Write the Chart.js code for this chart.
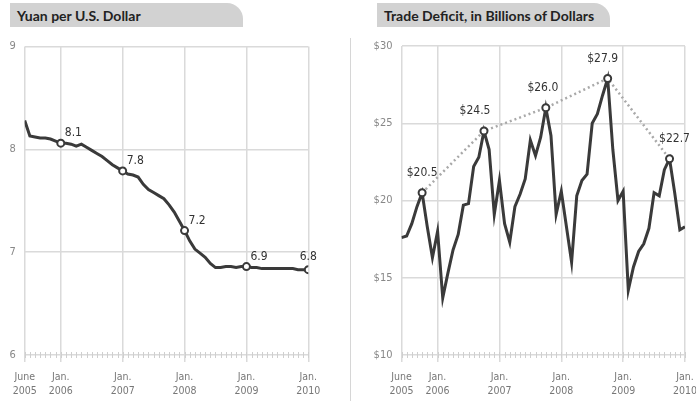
<!DOCTYPE html>
<html>
<head>
<meta charset="utf-8">
<script src="https://cdn.jsdelivr.net/npm/chart.js@4.4.1/dist/chart.umd.min.js"></script>
<style>
  body { margin: 0; background: #fff; width: 696px; height: 401px; overflow: hidden; position: relative; }
  .tab {
    position: absolute; top: 3px; height: 24px; width: 233px;
    background: #d2d2d2; border-top-right-radius: 16px;
    font: bold 14px Lato, sans-serif; color: #222;
    line-height: 25px; padding-left: 7px; box-sizing: border-box;
  }
  .sep { position: absolute; left: 350px; top: 38px; width: 1px; height: 363px; background: #d6d6d6; }
  canvas { position: absolute; top: 0; }
</style>
</head>
<body>
<div class="tab" style="left:10px">Yuan per U.S. Dollar</div>
<div class="tab" style="left:377px">Trade Deficit, in Billions of Dollars</div>
<div class="sep"></div>
<canvas id="yuan" width="348" height="401" style="left:0"></canvas>
<canvas id="deficit" width="346" height="401" style="left:350px"></canvas>
<script>
// months counted from June 2005 (0) to Jan. 2010 (55)
var tickMonths = [0, 7, 19, 31, 43, 55];
var tickLabels = [['June', '2005'], ['Jan.', '2006'], ['Jan.', '2007'], ['Jan.', '2008'], ['Jan.', '2009'], ['Jan.', '2010']];

// yuan per dollar, monthly
var yuanRate = [8.28, 8.13, 8.12, 8.11, 8.11, 8.10, 8.08, 8.06, 8.06, 8.05,
                8.03, 8.05, 8.02, 7.99, 7.96, 7.93, 7.89, 7.85, 7.82, 7.79,
                7.76, 7.75, 7.73, 7.66, 7.61, 7.58, 7.55, 7.52, 7.46, 7.39,
                7.30, 7.21, 7.11, 7.03, 6.99, 6.95, 6.89, 6.85, 6.85, 6.86,
                6.86, 6.85, 6.86, 6.86, 6.85, 6.85, 6.84, 6.84, 6.84, 6.84,
                6.84, 6.84, 6.84, 6.83, 6.83, 6.83];
var yuanMarked = [7, 19, 31, 43, 55];

// trade deficit with China, billions of dollars, monthly
var tradeDeficit = [17.6, 17.7, 18.5, 19.6, 20.5, 18.3, 16.3, 18.0, 13.7, 15.3,
                    16.8, 17.8, 19.7, 19.8, 22.2, 22.8, 24.5, 23.3, 19.1, 21.3,
                    18.5, 17.3, 19.6, 20.4, 21.4, 23.9, 22.9, 24.1, 26.0, 24.2,
                    19.1, 20.6, 18.3, 16.0, 20.3, 21.3, 21.7, 25.0, 25.6, 26.8,
                    27.9, 23.3, 20.0, 20.6, 14.2, 15.7, 16.7, 17.2, 18.2, 20.5,
                    20.3, 22.0, 22.7, 20.5, 18.1, 18.3];
var deficitMarked = [4, 16, 28, 40, 52];

var narrow = '"DejaVu Sans Condensed", "Liberation Sans Narrow", sans-serif';
var lineColor = '#3a3a3a';
var gridColor = '#dadada';

// small tick for every month along the bottom axis
var monthTicks = {
    id: 'monthTicks',
    beforeDatasetsDraw: function (chart) {
        var x = chart.scales.x, ctx = chart.ctx, bottom = chart.chartArea.bottom;
        ctx.save();
        ctx.strokeStyle = '#cfcfcf';
        ctx.lineWidth = 1;
        for (var m = x.min; m <= x.max; m++) {
            var px = Math.round(x.getPixelForValue(m)) + 0.5;
            ctx.beginPath();
            ctx.moveTo(px, bottom - 3);
            ctx.lineTo(px, bottom + 3);
            ctx.stroke();
        }
        ctx.restore();
    }
};

// value labels next to the circled points
function pointLabels(marked, fmt, place) {
    return {
        id: 'pointLabels',
        afterDatasetsDraw: function (chart) {
            var meta = chart.getDatasetMeta(0), ctx = chart.ctx;
            var values = chart.data.datasets[0].data;
            ctx.save();
            ctx.fillStyle = '#333';
            ctx.font = '12px ' + narrow;
            ctx.textBaseline = 'middle';
            marked.forEach(function (m, i) {
                var pt = meta.data[m];
                var p = place(i, marked.length);
                ctx.textAlign = p.align;
                ctx.fillText(fmt(values[m].y), pt.x + p.dx, pt.y + p.dy);
            });
            ctx.restore();
        }
    };
}

function xAxis() {
    return {
        type: 'linear',
        min: 0,
        max: 55,
        afterBuildTicks: function (scale) {
            scale.ticks = tickMonths.map(function (v) { return { value: v }; });
        },
        afterFit: function (scale) {
            scale.height = 46;
            // let the end labels hang over the edges
            scale.paddingLeft = 0;
            scale.paddingRight = 0;
        },
        grid: { color: gridColor, lineWidth: 1.5, tickLength: 7, drawTicks: true },
        border: { display: false },
        ticks: {
            autoSkip: false,
            maxRotation: 0,
            padding: 8,
            color: '#777',
            font: { family: narrow, size: 10.5, lineHeight: 1.33 },
            callback: function (v) { return tickLabels[tickMonths.indexOf(v)]; }
        }
    };
}

function yAxis(min, max, step, width, fmt) {
    return {
        min: min,
        max: max,
        afterFit: function (scale) { scale.width = width; },
        grid: { color: gridColor, lineWidth: 1.5, drawTicks: false },
        border: { display: false },
        ticks: {
            stepSize: step,
            padding: 9,
            color: '#888',
            font: { family: narrow, size: 11 },
            callback: fmt
        }
    };
}

function mainLine(values, marked) {
    return {
        data: values.map(function (v, i) { return { x: i, y: v }; }),
        borderColor: lineColor,
        borderWidth: 3,
        tension: 0,
        order: 1,
        pointRadius: function (c) { return marked.indexOf(c.dataIndex) >= 0 ? 3.5 : 0; },
        pointBackgroundColor: '#fff',
        pointBorderColor: lineColor,
        pointBorderWidth: 2
    };
}

var common = {
    responsive: false,
    animation: false,
    events: [],
    plugins: { legend: { display: false }, tooltip: { enabled: false } }
};

new Chart(document.getElementById('yuan'), {
    type: 'line',
    data: { datasets: [mainLine(yuanRate, yuanMarked)] },
    options: Object.assign({}, common, {
        layout: { padding: { top: 46.5, right: 39.7, bottom: 0, left: 0 } },
        scales: {
            x: xAxis(),
            y: yAxis(6, 9, 1, 24.7, function (v) { return v; })
        }
    }),
    plugins: [monthTicks, pointLabels(yuanMarked,
        function (v) { return v.toFixed(1); },
        function (i, n) {
            return i === n - 1 ? { align: 'center', dx: 0, dy: -13 } : { align: 'left', dx: 4, dy: -10 };
        })]
});

var deficitShift = [0, -9, -3, -5, 5];

new Chart(document.getElementById('deficit'), {
    type: 'line',
    data: {
        datasets: [
            mainLine(tradeDeficit, deficitMarked),
            {
                // dotted trend through the October peaks
                data: deficitMarked.map(function (m) { return { x: m, y: tradeDeficit[m] }; }),
                borderColor: '#a9a9a9',
                borderWidth: 2.5,
                borderDash: [2, 3],
                pointRadius: 0,
                tension: 0,
                order: 2
            }
        ]
    },
    options: Object.assign({}, common, {
        layout: { padding: { top: 46, right: 11, bottom: 0, left: 0 } },
        scales: {
            x: xAxis(),
            y: yAxis(10, 30, 5, 51.5, function (v) { return '$' + v; })
        }
    }),
    plugins: [monthTicks, pointLabels(deficitMarked,
        function (v) { return '$' + v.toFixed(1); },
        function (i) { return { align: 'center', dx: deficitShift[i], dy: -20 }; })]
});
</script>
</body>
</html>
